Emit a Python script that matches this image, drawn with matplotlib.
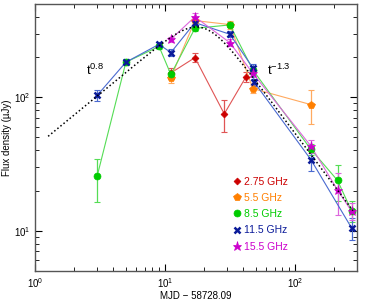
import numpy as np
import matplotlib
matplotlib.use('Agg')
import matplotlib.pyplot as plt

plt.rcParams['font.family'] = ['Liberation Sans', 'DejaVu Sans']
plt.rcParams['font.size'] = 7
plt.rcParams['mathtext.fontset'] = 'custom'
plt.rcParams['mathtext.rm'] = 'Liberation Sans'
plt.rcParams['mathtext.it'] = 'Liberation Sans'

### Data ###

# 2.75 GHz
t_275 = [11.1, 17.0, 28.6, 42.0]
f_275 = [152, 198, 75, 142]
e_275 = [14, 16, 20, 13]

# 5.5 GHz
t_55 = [11.1, 17.0, 31.6, 47.5, 133]
f_55 = [140, 375, 350, 116, 88]
e_55 = [12, 25, 25, 8, 25]

# 8.5 GHz
t_85 = [3.0, 5.0, 9.0, 11.1, 17.0, 31.6, 47.5, 132, 213, 273]
f_85 = [25.5, 183, 240, 148, 328, 348, 160, 41, 23.8, 14.1]
e_85 = [9, 10, 12, 12, 15, 15, 10, 4, 7, 2.5]

# 11.5 GHz
t_115 = [3.0, 5.0, 9.0, 11.1, 17.0, 31.6, 47.5, 48.5, 133, 273]
f_115 = [103, 183, 249, 216, 362, 296, 166, 130, 34, 10.5]
e_115 = [10, 10, 12, 12, 20, 15, 12, 8, 6, 2]

# 15.5 GHz
t_155 = [11.1, 17.0, 31.6, 47.5, 133, 213, 273]
f_155 = [272, 400, 256, 151, 43, 20.2, 14.0]
e_155 = [12, 25, 15, 10, 5, 7, 2]

# smoothly broken power law shown as dotted line
alpha_rise = 0.8
alpha_decay = -1.3
t_break = 19.4
f_break = 454
smooth = 2.2
t_model_min = 1.26
t_model_max = 280

series = [
    ('2.75 GHz', t_275, f_275, e_275, 'D', '#cc0000', '#e05555', 3.5),
    ('5.5 GHz', t_55, f_55, e_55, 'p', '#ff7f00', '#ffaa60', 5.5),
    ('8.5 GHz', t_85, f_85, e_85, 'o', '#00cc00', '#55dd55', 5),
    ('11.5 GHz', t_115, f_115, e_115, 'x', '#0a1a99', '#4a6ad0', 5),
    ('15.5 GHz', t_155, f_155, e_155, '*', '#cc00cc', '#dd66dd', 6.5),
]

fig = plt.figure(figsize=(3.9, 3.0), dpi=100)
ax = fig.add_axes([0.09, 0.097, 0.825, 0.89])

for name, t, f, e, mk, col, lcol, ms in series:
    ax.errorbar(t, f, yerr=e, fmt='none', ecolor=lcol, elinewidth=0.9,
                capsize=2, capthick=0.8, zorder=2)
    ax.plot(t, f, '-', color=lcol, lw=0.8, zorder=3)
    mew = 1.8 if mk == 'x' else 0.5
    ax.plot(t, f, ls='none', marker=mk, color=col, ms=ms, mew=mew,
            mec=col, label=name, zorder=4)

tm = np.logspace(np.log10(t_model_min), np.log10(t_model_max), 200)
r = tm / t_break
fm = f_break * (r ** (-alpha_rise * smooth) + r ** (-alpha_decay * smooth)) ** (-1.0 / smooth)
ax.plot(tm, fm, ls=(0, (1, 1.6)), color='black', lw=1.1, zorder=5)

ax.text(2.9, 158, r'$\mathregular{t^{0.8}}$', fontsize=9.5, ha='center', va='center')
ax.text(75, 158, r'$\mathregular{t^{-1.3}}$', fontsize=9.5, ha='center', va='center')

ax.set_xscale('log')
ax.set_yscale('log')
ax.set_xlim(1, 300)
ax.set_ylim(5, 500)
ax.set_xlabel('MJD \u2212 58728.09', labelpad=1)
ax.set_ylabel('Flux density (\u00b5Jy)', labelpad=1)

ax.tick_params(which='both', direction='in', top=True, right=True, labelsize=7)
ax.tick_params(which='major', length=5)
ax.tick_params(which='minor', length=3)
for sp in ax.spines.values():
    sp.set_color('#555555')
    sp.set_linewidth(1.0)

leg = ax.legend(loc='lower left', bbox_to_anchor=(0.59, 0.045), frameon=False,
                handletextpad=0.15, handlelength=1.0, labelspacing=0.6,
                borderpad=0.2, fontsize=7.5)
for txt, s in zip(leg.get_texts(), series):
    txt.set_color(s[5])

plt.savefig('out.png', dpi=100)
